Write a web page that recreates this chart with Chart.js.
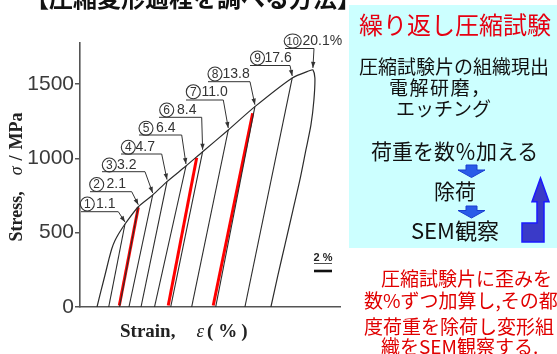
<!DOCTYPE html>
<html><head><meta charset="utf-8">
<script src="https://cdn.jsdelivr.net/npm/chart.js@4.4.1/dist/chart.umd.min.js"></script>
<style>
html,body{margin:0;padding:0;background:#fff;}
#wrap{position:relative;width:557px;height:354px;overflow:hidden;font-family:"Noto Sans CJK JP",sans-serif;}
#panel{position:absolute;left:349px;top:5px;width:208px;height:243px;background:#ccffff;}
canvas{position:absolute;left:0;top:0;}
svg{position:absolute;left:0;top:0;}
.t{position:absolute;white-space:nowrap;line-height:1;}
.red{color:#e60012;}
.nred{color:#e00000;}
</style></head>
<body>
<div id="wrap">
<div id="panel"></div>
<canvas id="c" width="557" height="354"></canvas>
<svg width="557" height="354" viewBox="0 0 557 354">
  <polygon points="466,165 477,165 477,170 485,170 471.5,177.5 458,170 466,170" fill="#2a5be8" stroke="#1a3fd0" stroke-width="1"/>
  <polygon points="466,206 477,206 477,210.5 485,210.5 471.5,218 458,210.5 466,210.5" fill="#2a5be8" stroke="#1a3fd0" stroke-width="1"/>
  <polygon points="522,223 537,223 537,201.7 532,201.7 540.5,178 549,201.7 544,201.7 544,242 522,242" fill="#3a3ac8" stroke="#1a1aff" stroke-width="1.5"/>
</svg>
<div class="t" style="left:25px;top:-15px;font-size:24px;font-weight:bold;color:#111;">【圧縮変形過程を調べる方法】</div>
<div class="t red" style="left:359px;top:12px;font-size:24px;">繰り返し圧縮試験</div>
<div class="t" style="left:359px;top:56px;font-size:19px;color:#111;">圧縮試験片の組織現出</div>
<div class="t" style="left:389px;top:76.5px;font-size:19px;letter-spacing:1.5px;color:#111;">電解研磨，</div>
<div class="t" style="left:396px;top:97.5px;font-size:19px;color:#111;">エッチング</div>
<div class="t" style="left:371px;top:140px;font-size:21px;color:#111;">荷重を数％加える</div>
<div class="t" style="left:434px;top:180px;font-size:21px;color:#111;">除荷</div>
<div class="t" style="left:411px;top:218px;font-size:22px;color:#111;">SEM観察</div>
<div class="t nred" style="left:381px;top:267.5px;font-size:19px;">圧縮試験片に歪みを</div>
<div class="t nred" style="left:364px;top:289.5px;font-size:19px;">数%ずつ加算し,その都</div>
<div class="t nred" style="left:364px;top:315.5px;font-size:19px;">度荷重を除荷し変形組</div>
<div class="t nred" style="left:381px;top:336px;font-size:19px;">織をSEM観察する.</div>
</div>
<script>
// ---------- data (strain in %, stress in MPa) ----------
const yTickValues = [0, 500, 1000, 1500];
const yTickLabels = ['0', '500', '1000', '1500'];
const cycleNo = ['1','2','3','4','5','6','7','8','9','10'];
const cycleLabel = ['1.1','2.1','3.2','4.7','6.4','8.4','11.0','13.8','17.6','20.1%'];
// initial loading curve
const loadStrain = [1.89, 2.33, 2.78, 3.22, 3.56, 3.89, 4.28, 4.67];
const loadStress = [0, 108, 215, 323, 397, 447, 491, 528];
// points on the envelope where each cycle was unloaded
const peakStrain = [5.0, 6.48, 8.08, 9.67, 11.78, 13.63, 16.48, 19.44, 23.59, 25.89];
const peakStress = [558, 674, 753, 843, 948, 1044, 1190, 1347, 1540, 1594];
// residual strain after each unloading
const footStrain = [3.19, 4.39, 5.44, 6.78, 8.28, 10.08, 12.41, 15.08, 18.33, 21.22];
// final unloading curve (cycle 10)
const lastStrain = [25.56, 25.89, 26.11, 26.0, 25.67, 25.11, 24.44, 23.67, 22.78, 22.0, 21.22];
const lastStress = [1590, 1594, 1540, 1392, 1224, 1056, 854, 652, 417, 215, 0];
// highlighted (red) unloading lines
const redTopStrain = [6.48, 12.97, 19.19];
const redTopStress = [670, 1004, 1303];
const redFootStrain = [4.37, 9.81, 14.81];
const redFootStress = [10, 10, 10];
const scaleBarStrain = 2;

// ---------- layout of annotation labels (px): cx, cy, textX, underlineY, ux1, ux2 ----------
const annLayout = [
 [87.3,204,96,211.7,81,118.3],
 [96.7,184.5,106.5,191.7,90,131.7],
 [109.3,165,117,171.7,102,145],
 [128.3,147.3,135.5,154,121,161.7],
 [146,128.3,156,135,139,181.7],
 [166.7,110,177,117.3,159,201.7],
 [193.3,91.7,201.5,100,186,223.3],
 [215,74,222.5,81.7,208,250],
 [257.5,58,264.5,65.5,250,290],
 [292.7,41,302.5,48.5,285,314]
];

const INK = '#2b2b2b';
const datasets = [];
const env = [];
loadStrain.forEach((s,i)=>env.push({x:s,y:loadStress[i]}));
for (let i=0;i<9;i++) env.push({x:peakStrain[i],y:peakStress[i]});
lastStrain.forEach((s,i)=>env.push({x:s,y:lastStress[i]}));
datasets.push({data:env, showLine:true, borderColor:INK, borderWidth:1.2, pointRadius:0, tension:0.25, fill:false});
for (let i=0;i<9;i++){
  datasets.push({data:[{x:footStrain[i],y:0},{x:peakStrain[i],y:peakStress[i]}], showLine:true, borderColor:INK, borderWidth:1.1, pointRadius:0, tension:0});
}
for (let i=0;i<redTopStrain.length;i++){
  datasets.push({data:[{x:redFootStrain[i],y:redFootStress[i]},{x:redTopStrain[i],y:redTopStress[i]}], showLine:true, borderColor:'#ff0000', borderWidth:3, pointRadius:0, tension:0});
}

function head(ctx,x,y,ang,len,w){
  ctx.beginPath();
  ctx.moveTo(x,y);
  ctx.lineTo(x-len*Math.cos(ang)+w*Math.sin(ang), y-len*Math.sin(ang)-w*Math.cos(ang));
  ctx.lineTo(x-len*Math.cos(ang)-w*Math.sin(ang), y-len*Math.sin(ang)+w*Math.cos(ang));
  ctx.closePath(); ctx.fill();
}
function drawParts(ctx, parts, x, y){
  let cx = x;
  for (const p of parts){
    if (p.gap){ cx += p.gap; continue; }
    ctx.font = p.f; ctx.fillText(p.t, cx, y); cx += ctx.measureText(p.t).width;
  }
}
function partsWidth(ctx, parts){
  let w=0; for (const p of parts){ if (p.gap){w+=p.gap;continue;} ctx.font=p.f; w+=ctx.measureText(p.t).width; } return w;
}

const annPlugin = {
  id:'ann',
  afterDatasetsDraw(chart){
    const {ctx, scales:{x:xs, y:ys}} = chart;
    ctx.save();
    ctx.strokeStyle = '#333'; ctx.fillStyle = '#333'; ctx.lineWidth = 1;
    for (let i=0;i<cycleNo.length;i++){
      const L = annLayout[i];
      const tx = xs.getPixelForValue(peakStrain[i]);
      const ty = ys.getPixelForValue(peakStress[i]) - 2;
      ctx.strokeStyle = '#333'; ctx.lineWidth = 1;
      ctx.beginPath(); ctx.moveTo(L[4],L[3]); ctx.lineTo(L[5],L[3]); ctx.lineTo(tx,ty); ctx.stroke();
      head(ctx, tx, ty, Math.atan2(ty-L[3], tx-L[5]), 6, 2.2);
      // circled number
      const rx = cycleNo[i].length > 1 ? 8.5 : 7, ry = 7;
      ctx.lineWidth = 1.1;
      ctx.beginPath(); ctx.ellipse(L[0], L[1], rx, ry, 0, 0, Math.PI*2); ctx.stroke();
      ctx.textBaseline = 'middle'; ctx.textAlign = 'center';
      ctx.font = (cycleNo[i].length > 1 ? '11px' : '12px') + ' "Liberation Sans"';
      ctx.fillText(cycleNo[i], L[0], L[1] + 0.5);
      ctx.textAlign = 'left'; ctx.font = '14px "Liberation Sans"';
      ctx.fillText(cycleLabel[i], L[2], L[1]);
    }
    // scale bar "2 %"
    const x0 = 314, x1 = x0 + (xs.getPixelForValue(scaleBarStrain) - xs.getPixelForValue(0));
    ctx.fillStyle = '#222'; ctx.strokeStyle = '#222'; ctx.textAlign='center'; ctx.textBaseline='middle';
    ctx.font = 'bold 11px "Liberation Sans"';
    ctx.fillText('2 %', (x0+x1)/2, 258);
    ctx.lineWidth = 0.8; ctx.beginPath(); ctx.moveTo(x0,263.5); ctx.lineTo(x1,263.5); ctx.stroke();
    ctx.lineWidth = 2.6; ctx.strokeStyle='#111'; ctx.beginPath(); ctx.moveTo(x0,271); ctx.lineTo(x1,271); ctx.stroke();
    // axis titles
    ctx.fillStyle = '#222'; ctx.textAlign='left'; ctx.textBaseline='middle';
    const B = 'bold 19px "Liberation Serif"', I = 'italic 19px "Liberation Serif"';
    drawParts(ctx, [{t:'Strain,',f:B},{gap:21},{t:'ε',f:I},{gap:3},{t:'(',f:B},{gap:5},{t:'%',f:B},{gap:4},{t:')',f:B}], 120, 332);
    const B2 = 'bold 18px "Liberation Serif"', I2 = 'italic 18px "Liberation Serif"';
    const yParts = [{t:'Stress,',f:B2},{gap:16},{t:'σ',f:I2},{gap:6},{t:'/',f:B2},{gap:6},{t:'MPa',f:B2}];
    const w = partsWidth(ctx, yParts);
    ctx.translate(17, 177); ctx.rotate(-Math.PI/2);
    drawParts(ctx, yParts, -w/2, 0);
    ctx.restore();
  }
};

new Chart(document.getElementById('c'), {
  type:'scatter',
  data:{datasets},
  options:{
    responsive:false, animation:false, events:[],
    layout:{padding:{left:0, top:43, right:217, bottom:0}},
    plugins:{legend:{display:false}, tooltip:{enabled:false}},
    scales:{
      x:{type:'linear', min:0, max:28.9,
         ticks:{display:false},
         grid:{display:true, drawOnChartArea:false, drawTicks:false},
         border:{display:true, color:'#555', width:1.6},
         afterFit:s=>{s.height=47;}},
      y:{type:'linear', min:0, max:1775,
         afterBuildTicks:s=>{s.ticks = yTickValues.map(v=>({value:v}));},
         ticks:{font:{family:'"Liberation Sans Narrow", "Liberation Sans"', size:21}, color:'#3a3a3a', padding:1,
                callback:(v)=>yTickLabels[yTickValues.indexOf(v)]},
         grid:{drawOnChartArea:false, drawTicks:true, tickLength:5, color:'#555', lineWidth:1.5},
         border:{display:true, color:'#555', width:1.6},
         afterFit:s=>{s.width=80;}}
    }
  },
  plugins:[annPlugin]
});
</script>
</body></html>
